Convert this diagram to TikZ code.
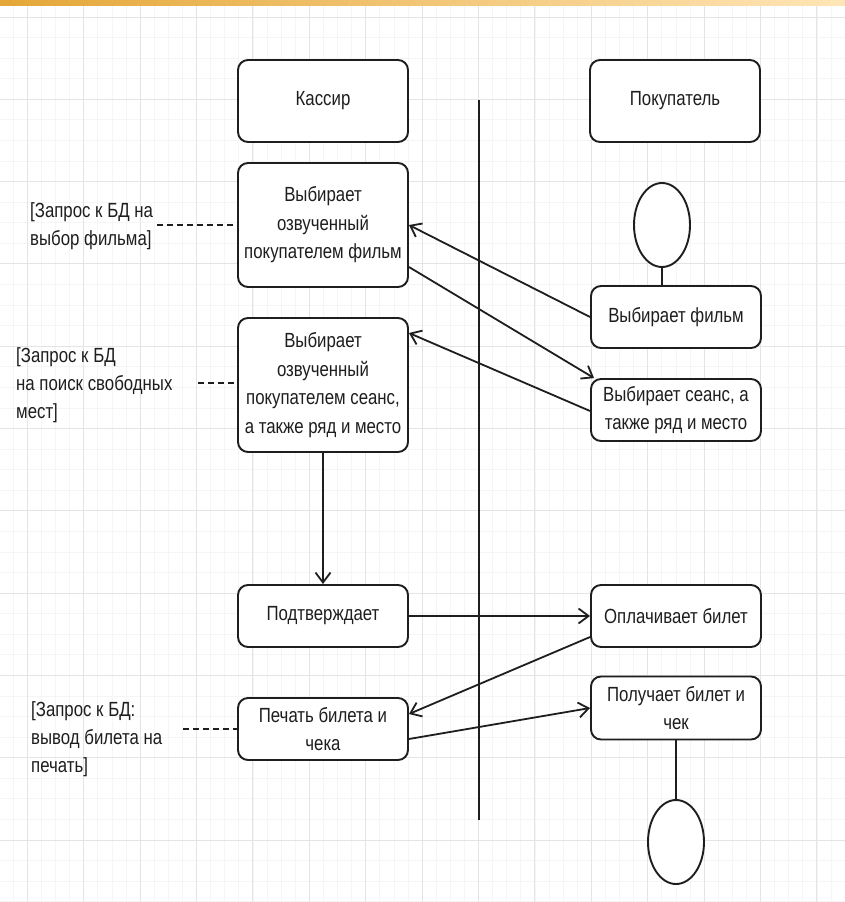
\documentclass[tikz,border=0pt]{standalone}
\usepackage{fontspec}
\setmainfont{Liberation Sans}[FakeStretch=0.82]
\usepackage{tikz}
\usetikzlibrary{shapes.geometric,arrows.meta}

\definecolor{barleft}{RGB}{228,167,56}
\definecolor{barright}{RGB}{255,229,182}
\definecolor{gridmajor}{RGB}{228,228,228}
\definecolor{gridminor}{RGB}{245,245,245}
\definecolor{ink}{RGB}{30,30,30}

\begin{document}
\begin{tikzpicture}[x=1pt,y=-1pt,
    box/.style={draw=ink,line width=1.9pt,rounded corners=10pt,fill=white,
      minimum width=170pt,minimum height=62pt,align=center,inner sep=2pt,
      text=ink,font=\fontsize{20.5}{28.5}\selectfont},
    note/.style={anchor=west,align=left,inner sep=0pt,text=ink,
      font=\fontsize{20.5}{28}\selectfont},
    state/.style={draw=ink,line width=1.9pt,ellipse,fill=white,
      minimum width=56pt,minimum height=84pt,inner sep=0pt},
    arr/.style={draw=ink,line width=1.8pt,-{Straight Barb[length=10pt,width=15pt,line width=1.8pt]}},
    link/.style={draw=ink,line width=1.3pt,dash pattern=on 6pt off 4pt}]

    % Page and background grid
    \useasboundingbox (0,0) rectangle (845,902);
    \fill[white] (0,0) rectangle (845,902);
    \foreach \i in {0,...,60}
      \draw[gridminor,line width=0.8pt] ({-0.9+14.1*\i},5) -- ++(0,897);
    \foreach \i in {0,...,44}
      \draw[gridminor,line width=0.8pt] (0,{-3.6+20.575*\i}) -- ++(845,0);
    \foreach \i in {0,...,14}
      \draw[gridmajor,line width=1pt] ({27.3+56.4*\i},5) -- ++(0,897);
    \foreach \i in {0,...,10}
      \draw[gridmajor,line width=1pt] (0,{17+82.3*\i}) -- ++(845,0);
    \shade[left color=barleft,right color=barright] (0,0) rectangle (845,5);

    % Swimlane divider
    \coordinate (lanetop) at (479,100);
    \coordinate (lanebot) at (479,820);
    \draw[ink,line width=1.8pt] (lanetop) -- (lanebot);

    % Lane headers
    \node[box,minimum height=82pt] (kassir) at (323,101) {Кассир};
    \node[box,minimum height=82pt] (pokup) at (675,101) {Покупатель};

    % Cashier actions
    \node[box,minimum height=124pt] (vybfilm) at (323,225)
      {Выбирает\\озвученный\\покупателем фильм};
    \node[box,minimum height=134pt] (vybseans) at (323,385)
      {Выбирает\\озвученный\\покупателем сеанс,\\а также ряд и место};
    \node[box] (podtv) at (323,616) {Подтверждает};
    \node[box] (pechat) at (323,729) {Печать билета и\\чека};

    % Customer actions
    \node[state] (start) at (662,225) {};
    \node[box] (film) at (676,317) {Выбирает фильм};
    \node[box] (seans) at (676,410) {Выбирает сеанс, а\\также ряд и место};
    \node[box] (oplata) at (676,616) {Оплачивает билет};
    \node[box,minimum height=63pt] (poluch) at (676,708) {Получает билет и\\чек};
    \node[state] (finish) at (676,842) {};

    % Database notes
    \node[note] (notefilm) at (30,226) {[Запрос к БД на\\выбор фильма]};
    \node[note] (notemesta) at (16,385) {[Запрос к БД\\на поиск свободных\\мест]};
    \node[note] (notepech) at (31,739) {[Запрос к БД:\\вывод билета на\\печать]};
    \coordinate (linkfilm) at (157,225);
    \coordinate (linkmesta) at (198,383);
    \coordinate (linkpech) at (183,729);
    \draw[link] (linkfilm) -- (linkfilm -| vybfilm.west);
    \draw[link] (linkmesta) -- (linkmesta -| vybseans.west);
    \draw[link] (linkpech) -- (linkpech -| pechat.west);

    % Flow
    \draw[ink,line width=1.9pt] (start.south) -- (start.south |- film.north);
    \draw[arr] (film.west) -- (vybfilm.east);
    \draw[arr] ([yshift=-42pt]vybfilm.east) -- ([xshift=4pt]seans.north west);
    \draw[arr] ([yshift=-1pt]seans.west) -- ([yshift=52pt]vybseans.east);
    \draw[arr] (vybseans.south) -- (podtv.north);
    \draw[arr] (podtv.east) -- (oplata.west);
    \draw[arr] ([yshift=-21pt]oplata.west) -- ([yshift=15pt]pechat.east);
    \draw[arr] ([yshift=-10pt]pechat.east) -- (poluch.west);
    \draw[ink,line width=1.9pt] (poluch.south) -- (finish.north);

\end{tikzpicture}
\end{document}
